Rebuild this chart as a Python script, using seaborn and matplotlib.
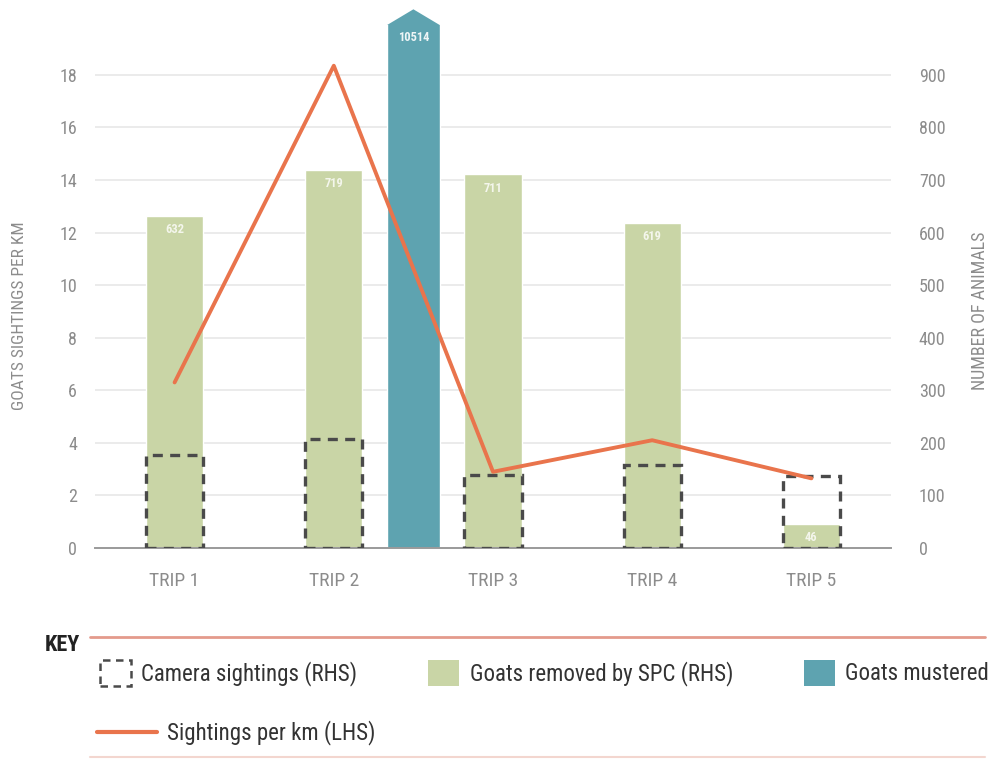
import numpy as np
import pandas as pd
import matplotlib
matplotlib.use("Agg")
import matplotlib.pyplot as plt
from matplotlib.patches import Patch, Polygon
from matplotlib.lines import Line2D
import seaborn as sns

# ---- data ----
trips = ["TRIP 1", "TRIP 2", "TRIP 3", "TRIP 4", "TRIP 5"]
goats_removed = [632, 719, 711, 619, 46]          # RHS
camera_sightings = [177, 207, 139, 158, 137]      # RHS
sightings_per_km = [6.3, 18.35, 2.9, 4.1, 2.65]   # LHS
mustered_value = 10514                             # RHS (off scale)
mustered_pos = 1.5                                 # between trip 2 and trip 3
left_ticks = [0, 2, 4, 6, 8, 10, 12, 14, 16, 18]
right_ticks = [0, 100, 200, 300, 400, 500, 600, 700, 800, 900]

sns.set_theme(style="white")
FONT = ["Liberation Sans Narrow", "Roboto Condensed", "DejaVu Sans"]
plt.rcParams["font.family"] = FONT
plt.rcParams["font.stretch"] = "condensed"

GREEN = "#c9d5a6"
TEAL = "#5ea3b0"
ORANGE = "#e9744c"
DASH = "#4a4a4a"
TICK = "#8c8c8c"

fig = plt.figure(figsize=(9.93, 7.6), dpi=100)
ax = fig.add_axes([95 / 993, 1 - 548 / 760, (891 - 95) / 993, (548 - 25) / 760])
ax2 = ax.twinx()

# bars on primary (RHS scale)
df = pd.DataFrame({"trip": trips, "removed": goats_removed, "camera": camera_sightings})
sns.barplot(data=df, x="trip", y="removed", ax=ax, color=GREEN, saturation=1,
            width=0.36, zorder=2)
sns.barplot(data=df, x="trip", y="camera", ax=ax, fill=False, color=DASH,
            width=0.36, linewidth=2.4, linestyle=(0, (3, 2.2)), zorder=3)
mb = ax.bar([mustered_pos], [mustered_value], width=0.33, color=TEAL, zorder=2)

ax.set_xlim(-0.5, 4.5)
rmax = 995
ax.set_ylim(0, rmax)
ax.set_yticks(right_ticks)
ax.yaxis.tick_right()
ax.yaxis.set_label_position("right")
ax.grid(axis="y", color="#e8e8e8", linewidth=1.2, zorder=0)
ax.set_axisbelow(True)

# arrow tip on the off-scale mustered bar
rect = mb.patches[0]
x0, w = rect.get_x(), rect.get_width()
tip = rmax * 1.03
arrow = Polygon([[x0, rmax], [x0 + w / 2, tip], [x0 + w, rmax]], closed=True,
                facecolor=TEAL, edgecolor="none", clip_on=False, zorder=2)
ax.add_patch(arrow)

# bar value labels
for i, v in enumerate(goats_removed):
    ax.text(i, v - 14, str(v), ha="center", va="top", color="#f4f6ec",
            fontsize=9, fontweight="bold", zorder=4)
ax.text(mustered_pos, rmax - 12, str(mustered_value), ha="center", va="top",
        color="#eef5f6", fontsize=9, fontweight="bold", zorder=4)

# line on twin (LHS scale)
sns.lineplot(x=np.arange(len(trips)), y=sightings_per_km, ax=ax2, color=ORANGE,
             linewidth=2.8, zorder=5)
ax2.set_ylim(0, rmax / 50)
ax2.set_yticks(left_ticks)
ax2.yaxis.tick_left()
ax2.yaxis.set_label_position("left")

for a in (ax, ax2):
    for s in a.spines.values():
        s.set_visible(False)
    a.tick_params(axis="y", length=0, colors=TICK, labelsize=13)
ax.spines["bottom"].set_visible(True)
ax.spines["bottom"].set_color("#9a9a9a")
ax.spines["bottom"].set_linewidth(1.4)
ax.tick_params(axis="y", pad=20)
ax2.tick_params(axis="y", pad=13)

ax.set_xlabel("")
ax.set_xticks(range(len(trips)))
ax.set_xticklabels(trips)
ax.tick_params(axis="x", length=0, colors=TICK, labelsize=14, pad=17)

ax2.set_ylabel("GOATS SIGHTINGS PER KM", color=TICK, fontsize=12.5, labelpad=0)
ax2.yaxis.set_label_coords(-0.085, 0.445)
ax.set_ylabel("NUMBER OF ANIMALS", color=TICK, fontsize=13, rotation=90)
ax.yaxis.set_label_coords(1.1, 0.453)

# ---- key ----
fig.text(45 / 993, 1 - 645 / 760, "KEY", fontsize=16, fontweight="bold",
         color="#222222", va="center", ha="left")
fig.add_artist(Line2D([90 / 993, 985 / 993], [1 - 637 / 760] * 2,
                      color="#e49a8c", linewidth=2))
fig.add_artist(Line2D([90 / 993, 985 / 993], [1 - 757 / 760] * 2,
                      color="#f3d6cf", linewidth=1.5))

patch_handles = [
    Patch(facecolor="none", edgecolor=DASH, linestyle=(0, (3, 2.2)), linewidth=1.8),
    Patch(facecolor=GREEN, edgecolor="none"),
    Patch(facecolor=TEAL, edgecolor="none"),
]
patch_labels = ["Camera sightings (RHS)", "Goats removed by SPC (RHS)", "Goats mustered"]
leg1 = fig.legend(patch_handles, patch_labels, loc="center left", ncol=3, frameon=False,
                  bbox_to_anchor=(100 / 993, 1 - 673 / 760), borderpad=0, borderaxespad=0,
                  fontsize=16.5, handlelength=1.35, handleheight=1.35,
                  handletextpad=0.45, columnspacing=3.1)
leg2 = fig.legend([Line2D([0], [0], color=ORANGE, linewidth=3)],
                  ["Sightings per km (LHS)"], loc="center left", frameon=False,
                  bbox_to_anchor=(97 / 993, 1 - 733 / 760), borderpad=0, borderaxespad=0,
                  fontsize=16.5, handlelength=2.6, handletextpad=0.45)
for lg in (leg1, leg2):
    for t in lg.get_texts():
        t.set_color("#333333")

fig.savefig("out.png", dpi=100)
